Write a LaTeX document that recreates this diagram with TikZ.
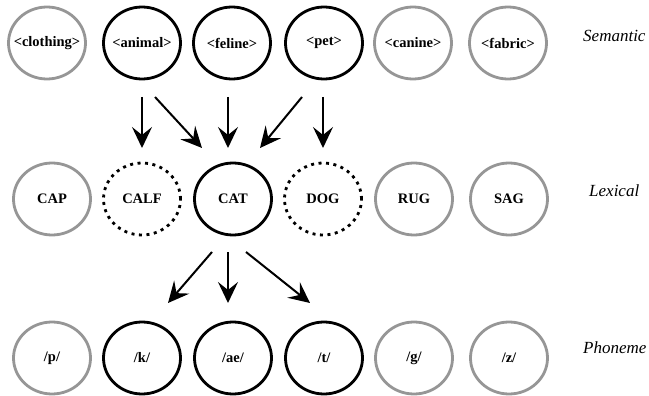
\documentclass[tikz,border=0pt]{standalone}
\usepackage{fontspec}
\setmainfont{Liberation Serif}
\usetikzlibrary{shapes.geometric,arrows.meta}
\definecolor{lightgr}{RGB}{150,150,150}
\tikzset{
  unit/.style={ellipse, minimum width=77pt, minimum height=72pt, inner xsep=-14pt, inner ysep=0pt, line width=2.8pt,
    font=\bfseries\fontsize{14.5}{16}\selectfont},
  active/.style={unit, draw=black},
  inactive/.style={unit, draw=lightgr},
  partial/.style={unit, draw=black, dash pattern=on 3pt off 4.5pt},
  layer/.style={anchor=west, font=\itshape\fontsize{17}{19}\selectfont, inner sep=0pt},
  flow/.style={line width=2pt, -{Stealth[length=21pt,width=20pt,inset=8pt]}}
}
\begin{document}
\begin{tikzpicture}[x=1pt,y=-1pt]
\useasboundingbox (0,0) rectangle (649,396);
% Semantic
\node[inactive] (clothing) at (47,43) {<clothing>};
\node[active] (animal) at (142,43) {<animal>};
\node[active] (feline) at (232,43) {<feline>};
\node[active] (pet) at (324,43) {<pet>};
\node[inactive] (canine) at (413,43) {<canine>};
\node[inactive] (fabric) at (508,43) {<fabric>};
\node[layer] (sem) at (583,36) {Semantic};
% Lexical
\node[inactive] (cap) at (52,199) {CAP};
\node[partial] (calf) at (142,199) {CALF};
\node[active] (cat) at (233,199) {CAT};
\node[partial] (dog) at (323,199) {DOG};
\node[inactive] (rug) at (414,199) {RUG};
\node[inactive] (sag) at (509,199) {SAG};
\node[layer] (lex) at (589,191) {Lexical};
% Phoneme
\node[inactive] (p) at (52,358) {/p/};
\node[active] (k) at (142,358) {/k/};
\node[active] (ae) at (233,358) {/ae/};
\node[active] (t) at (324,358) {/t/};
\node[inactive] (g) at (414,358) {/g/};
\node[inactive] (z) at (509,358) {/z/};
\node[layer] (pho) at (583,348) {Phoneme};
% arrow end points
\coordinate (s1) at (142,97);  \coordinate (e1) at (142,148);
\coordinate (s2) at (155,97);  \coordinate (e2) at (202,148);
\coordinate (s3) at (228,97);  \coordinate (e3) at (228,148);
\coordinate (s4) at (302,97);  \coordinate (e4) at (260,148);
\coordinate (s5) at (323,97);  \coordinate (e5) at (323,148);
\coordinate (b1) at (212,252); \coordinate (f1) at (168,303);
\coordinate (b2) at (228,252); \coordinate (f2) at (228,303);
\coordinate (b3) at (246,252); \coordinate (f3) at (310,303);
\draw[flow] (s1) -- (e1);
\draw[flow] (s2) -- (e2);
\draw[flow] (s3) -- (e3);
\draw[flow] (s4) -- (e4);
\draw[flow] (s5) -- (e5);
\draw[flow] (b1) -- (f1);
\draw[flow] (b2) -- (f2);
\draw[flow] (b3) -- (f3);
\end{tikzpicture}
\end{document}
